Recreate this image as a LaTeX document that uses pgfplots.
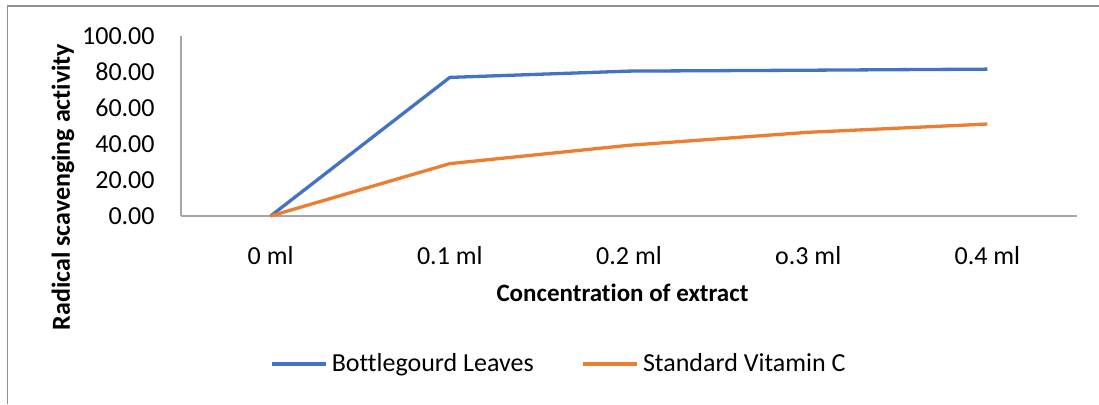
\documentclass[border=0pt]{standalone}
\usepackage{fontspec}
\setmainfont{Carlito}[Ligatures={NoCommon}]
\usepackage{pgfplots}
\pgfplotsset{compat=1.18}
\definecolor{xlblue}{HTML}{4472C4}
\definecolor{xlorange}{HTML}{ED7D31}
\definecolor{axgray}{HTML}{A6A6A6}
\definecolor{framegray}{HTML}{8F8F8F}
\begin{document}
\begin{tikzpicture}
\path[use as bounding box] (0,0) rectangle (549.5pt,202pt);
\draw[framegray, line width=0.6pt] (3.75pt,0pt) -- (3.75pt,199pt) -- (549.5pt,199pt);
\begin{axis}[
  at={(90.5pt,94pt)}, anchor=south west,
  scale only axis, width=448pt, height=90pt,
  xmin=-0.5, xmax=4.5, ymin=0, ymax=100,
  clip=false,
  axis x line*=bottom, axis y line*=left,
  axis line style={draw=axgray, line width=0.8pt, -},
  major tick length=0pt,
  xtick={0,1,2,3,4},
  xticklabels={0 ml,0.1 ml,0.2 ml,o.3 ml,0.4 ml},
  ytick={0,20,40,60,80,100},
  yticklabel={\pgfmathprintnumber[fixed,fixed zerofill,precision=2]{\tick}},
  /pgf/number format/assume math mode=true,
  tick label style={font=\fontsize{13pt}{15pt}\selectfont, text=black},
  yticklabel style={inner sep=0pt, anchor=east, xshift=-13pt},
  xticklabel style={inner sep=0pt, anchor=north, yshift=-15pt},
  xlabel={\textbf{Concentration of extract}},
  ylabel={\textbf{Radical scavenging activity}},
  label style={font=\fontsize{12.5pt}{15pt}\selectfont},
  xlabel style={at={(axis description cs:0.4927,0)}, anchor=north, inner sep=0pt, yshift=-34pt},
  ylabel style={at={(axis description cs:-0.1317,0.161)}, anchor=center, inner sep=0pt, font=\fontsize{13pt}{15pt}\selectfont},
  legend columns=2,
  legend style={draw=none, fill=none, at={(axis description cs:0.423,-0.822)}, anchor=center,
    font=\fontsize{13pt}{15pt}\selectfont, inner sep=0pt,
    /tikz/every even column/.append style={column sep=22pt}},
  legend image code/.code={\draw[#1, line width=1.65pt] (0pt,0pt) -- (27pt,0pt);},
  legend cell align=left,
]
\addplot[xlblue, line width=1.65pt, line join=round] coordinates {(0,0) (1,77.0) (2,80.5) (3,81.0) (4,81.6)};
\addlegendentry{Bottlegourd Leaves}
\addplot[xlorange, line width=1.65pt, line join=round] coordinates {(0,0) (1,29.1) (2,39.3) (3,46.5) (4,51.1)};
\addlegendentry{Standard Vitamin C}
\end{axis}
\end{tikzpicture}
\end{document}
